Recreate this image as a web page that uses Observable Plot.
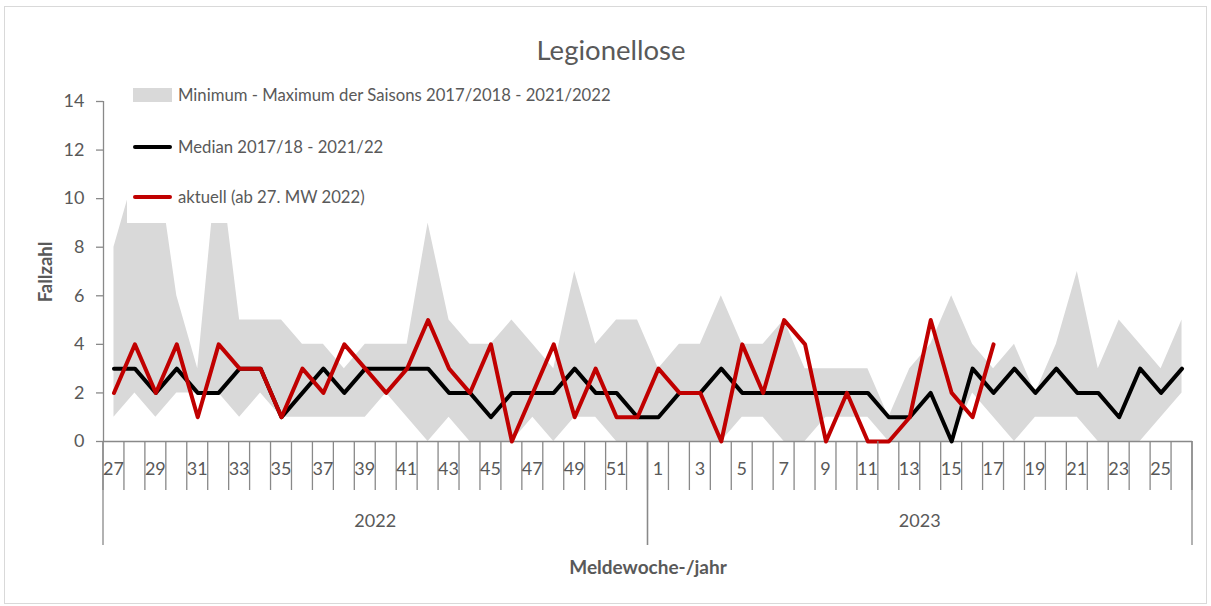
<!DOCTYPE html>
<html>
<head>
<meta charset="utf-8">
<script src="https://cdn.jsdelivr.net/npm/d3@7"></script>
<script src="https://cdn.jsdelivr.net/npm/@observablehq/plot@0.6"></script>
<style>
  html, body { margin: 0; padding: 0; background: #fff; }
  body { font-family: Lato, "Noto Sans", sans-serif; color: #595959; }
  #wrap { position: relative; width: 1211px; height: 606px; overflow: hidden; }
  #frame { position: absolute; left: 4px; top: 6px; width: 1203px; height: 598px; border: 1px solid #d9d9d9; box-sizing: border-box; pointer-events: none; }
  #chart { position: absolute; left: 0; top: 0; }
  #title { position: absolute; left: 0; width: 1222px; top: 32px; text-align: center; font-size: 27.5px; color: #595959; line-height: 36px; }
  #legend { position: absolute; left: 127px; top: 76px; width: 490px; height: 147px; background: #fff; }
  .item { position: absolute; left: 6px; height: 24px; display: flex; align-items: center; font-size: 16.7px; color: #595959; white-space: nowrap; }
  .sw { width: 39px; margin-right: 6px; }
  #ytitle { position: absolute; left: 45px; top: 272px; transform: translate(-50%, -50%) rotate(-90deg); font-size: 18.5px; font-weight: bold; color: #595959; white-space: nowrap; }
  #xtitle { position: absolute; left: 0; width: 1296px; top: 555px; text-align: center; font-size: 19px; font-weight: bold; color: #595959; }
</style>
</head>
<body>
<div id="wrap">
  <div id="chart"></div>
  <div id="frame"></div>
  <div id="title">Legionellose</div>
  <div id="legend"></div>
  <div id="ytitle">Fallzahl</div>
  <div id="xtitle">Meldewoche-/jahr</div>
</div>
<script>
// ---- data ----
const weeks = [27,28,29,30,31,32,33,34,35,36,37,38,39,40,41,42,43,44,45,46,47,48,49,50,51,52,
               1,2,3,4,5,6,7,8,9,10,11,12,13,14,15,16,17,18,19,20,21,22,23,24,25,26];
const yearLabels = ["2022", "2023"];
const yearWeekCounts = [26, 26];
const maxVals = [8,11,12,6,3,12,5,5,5,4,4,3,4,4,4,9,5,4,4,5,4,3,7,4,5,5,
                 3,4,4,6,4,4,5,3,3,3,3,1,3,4,6,4,3,4,2,4,7,3,5,4,3,5];
const minVals = [1,2,1,2,2,2,1,2,1,1,1,1,1,2,1,0,1,0,0,0,1,0,1,1,0,0,
                 0,0,0,0,1,1,0,0,1,1,1,0,0,0,0,2,1,0,1,1,1,0,0,0,1,2];
const medianVals = [3,3,2,3,2,2,3,3,1,2,3,2,3,3,3,3,2,2,1,2,2,2,3,2,2,1,
                    1,2,2,3,2,2,2,2,2,2,2,1,1,2,0,3,2,3,2,3,2,2,1,3,2,3];
const currentVals = [2,4,2,4,1,4,3,3,1,3,2,4,3,2,3,5,3,2,4,0,2,4,1,3,1,1,
                     3,2,2,0,4,2,5,4,0,2,0,0,1,5,2,1,4];
const yTicks = [0,2,4,6,8,10,12,14];
const legendLabels = [
  "Minimum - Maximum der Saisons 2017/2018 - 2021/2022",
  "Median 2017/18 - 2021/22",
  "aktuell (ab 27. MW 2022)"
];
const colors = { band: "#d9d9d9", median: "#000000", current: "#c00000", axis: "#898989", text: "#595959" };

// ---- tables ----
const rows = weeks.map((w, i) => ({ i, week: w, min: minVals[i], max: maxVals[i], median: medianVals[i] }));
const cur = currentVals.map((v, i) => ({ i, v }));
const n = weeks.length;

const plot = Plot.plot({
  width: 1211,
  height: 606,
  marginLeft: 103,
  marginRight: 19,
  marginTop: 101,
  marginBottom: 165,
  style: { fontFamily: "Lato, 'Noto Sans', sans-serif", fontSize: "18px", color: colors.axis, background: "transparent" },
  x: { domain: [-0.5, n - 0.5], axis: null },
  y: { domain: [0, 14], axis: null },
  marks: [
    Plot.areaY(rows, { x: "i", y1: "min", y2: "max", fill: colors.band }),
    Plot.ruleX([-0.5], { y1: 0, y2: 14, stroke: colors.axis, strokeWidth: 1.3 }),
    Plot.ruleY([0], { x1: -0.5, x2: n - 0.5, stroke: colors.axis, strokeWidth: 1.3 }),
    Plot.axisY({ ticks: yTicks, tickSize: 7, tickPadding: 12, label: null, stroke: colors.axis, fill: colors.text, fontSize: 18, strokeWidth: 1.3 }),
    Plot.lineY(rows, { x: "i", y: "median", stroke: colors.median, strokeWidth: 4 }),
    Plot.lineY(cur, { x: "i", y: "v", stroke: colors.current, strokeWidth: 4 })
  ]
});
document.getElementById("chart").appendChild(plot);

// ---- two-level category axis, drawn through the plot's own scales ----
const xs = plot.scale("x"), ys = plot.scale("y");
const y0 = ys.apply(0);
const svg = d3.select(plot);
svg.selectAll('[aria-label="y-axis tick label"] text, [aria-label="y-axis tick label"]').attr("fill", colors.text);
const gx = svg.append("g").attr("stroke", colors.axis).attr("stroke-width", 1.3);
for (let k = 0; k <= n; k++) {
  const x = xs.apply(k - 0.5);
  gx.append("line").attr("x1", x).attr("x2", x).attr("y1", y0).attr("y2", y0 + 49);
}
let start = 0;
yearWeekCounts.forEach((c, j) => {
  [start, start + c].forEach(b => {
    const x = xs.apply(b - 0.5);
    gx.append("line").attr("x1", x).attr("x2", x).attr("y1", y0).attr("y2", y0 + 104);
  });
  svg.append("text")
    .attr("x", (xs.apply(start - 0.5) + xs.apply(start + c - 0.5)) / 2)
    .attr("y", y0 + 86)
    .attr("text-anchor", "middle")
    .attr("fill", colors.text)
    .attr("font-size", 18)
    .text(yearLabels[j]);
  start += c;
});
weeks.forEach((w, i) => {
  if (w % 2 === 1) {
    svg.append("text")
      .attr("x", xs.apply(i))
      .attr("y", y0 + 34)
      .attr("text-anchor", "middle")
      .attr("fill", colors.text)
      .attr("font-size", 18)
      .text(String(w));
  }
});

// ---- legend ----
const legend = document.getElementById("legend");
const swatches = [
  `<div class="sw" style="height:14px;background:${colors.band}"></div>`,
  `<div class="sw" style="height:4px;border-radius:2px;background:${colors.median}"></div>`,
  `<div class="sw" style="height:4px;border-radius:2px;background:${colors.current}"></div>`
];
const tops = [7, 59, 109];
legendLabels.forEach((t, k) => {
  const d = document.createElement("div");
  d.className = "item";
  d.style.top = tops[k] + "px";
  d.innerHTML = swatches[k] + `<span>${t}</span>`;
  legend.appendChild(d);
});
</script>
</body>
</html>
